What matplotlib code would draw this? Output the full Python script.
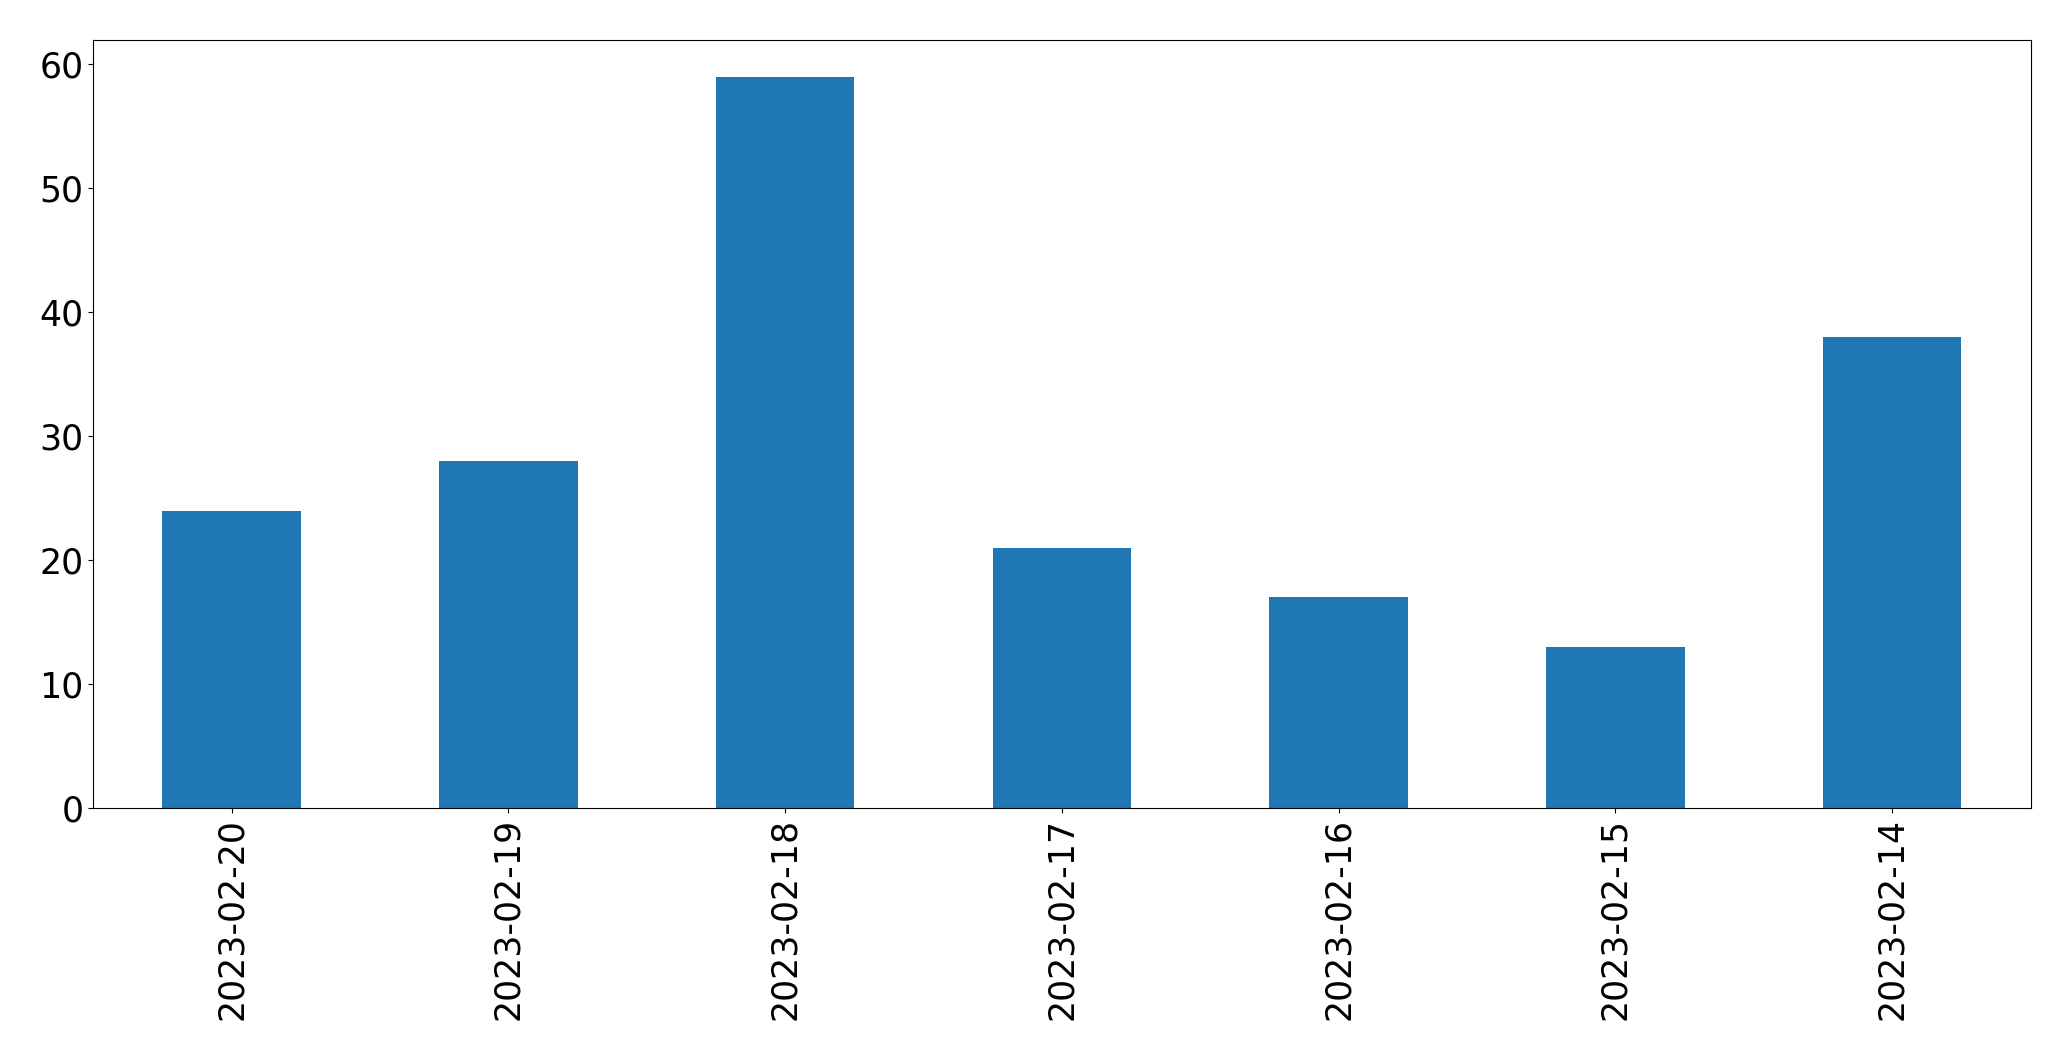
import matplotlib
matplotlib.use("Agg")
import matplotlib.pyplot as plt
import pandas as pd

dates = ["2023-02-20", "2023-02-19", "2023-02-18", "2023-02-17",
         "2023-02-16", "2023-02-15", "2023-02-14"]
counts = [24, 28, 59, 21, 17, 13, 38]

s = pd.Series(counts, index=dates)

fig = plt.figure(figsize=(20.71, 10.61), dpi=100)
ax = fig.add_axes([0.0450, 0.2385, 0.9355, 0.7235])
s.plot(kind="bar", ax=ax, color="#1f77b4", fontsize=25)
ax.tick_params(axis="both", labelsize=25)

fig.savefig("out.png", dpi=100, facecolor="white")
